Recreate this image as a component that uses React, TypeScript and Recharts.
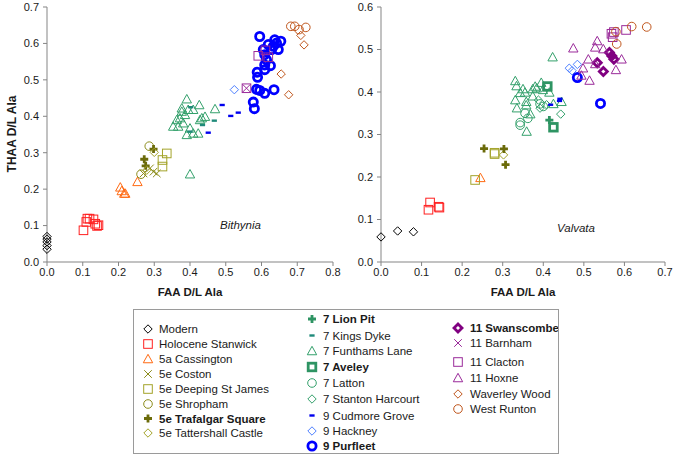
import React from "react";
import { ScatterChart, Scatter, XAxis, YAxis } from "recharts";

type Pt = [number, number];
type Kind = "diamond" | "square" | "triangle" | "circle" | "x" | "plus" | "dash";

// ── Bithynia (left panel) ────────────────────────────────────────────────────
const bModern: Pt[] = [[0, 0.035], [0, 0.045], [0, 0.055], [0, 0.063], [0, 0.07]];
const bStanwick: Pt[] = [[0.102, 0.087], [0.11, 0.11], [0.113, 0.119], [0.119, 0.119], [0.13, 0.117], [0.135, 0.105], [0.14, 0.099], [0.144, 0.101]];
const bCassington: Pt[] = [[0.205, 0.205], [0.209, 0.195], [0.216, 0.188], [0.219, 0.188], [0.253, 0.22]];
const bCoston: Pt[] = [[0.27, 0.243], [0.288, 0.257], [0.298, 0.248], [0.307, 0.243]];
const bDeeping: Pt[] = [[0.335, 0.298], [0.323, 0.28], [0.323, 0.262]];
const bShropham: Pt[] = [[0.286, 0.318], [0.263, 0.241]];
const bTrafalgar: Pt[] = [[0.272, 0.282], [0.276, 0.264], [0.298, 0.31]];
const bTattershall: Pt[] = [[0.3, 0.301], [0.279, 0.252]];
const bKingsDyke: Pt[] = [[0.402, 0.425], [0.468, 0.388], [0.435, 0.376], [0.4, 0.358]];
const bFunthams: Pt[] = [
  [0.391, 0.447], [0.353, 0.372], [0.367, 0.372], [0.372, 0.395], [0.377, 0.413], [0.386, 0.404],
  [0.395, 0.418], [0.381, 0.381], [0.391, 0.349], [0.4, 0.367], [0.409, 0.353], [0.423, 0.353],
  [0.428, 0.39], [0.433, 0.395], [0.442, 0.399], [0.426, 0.431], [0.409, 0.418], [0.47, 0.42],
  [0.4, 0.241], [0.377, 0.422], [0.363, 0.39],
];
const bCudmore: Pt[] = [[0.49, 0.431], [0.514, 0.401], [0.535, 0.41], [0.451, 0.355]];
const bHackney: Pt[] = [[0.524, 0.473]];
const bPurfleet: Pt[] = [
  [0.595, 0.619], [0.605, 0.583], [0.609, 0.569], [0.614, 0.555], [0.609, 0.541], [0.588, 0.521],
  [0.589, 0.507], [0.609, 0.528], [0.625, 0.539], [0.586, 0.474], [0.595, 0.471], [0.609, 0.463],
  [0.635, 0.473], [0.577, 0.439], [0.58, 0.421], [0.633, 0.592], [0.642, 0.601], [0.654, 0.606],
  [0.637, 0.61], [0.628, 0.583], [0.619, 0.597], [0.647, 0.583],
];
const bBarnham: Pt[] = [[0.558, 0.477]];
const bClacton: Pt[] = [[0.558, 0.477], [0.591, 0.566], [0.611, 0.581], [0.619, 0.562]];
const bWaverley: Pt[] = [[0.71, 0.622], [0.719, 0.596], [0.655, 0.516], [0.676, 0.459]];
const bWestRunton: Pt[] = [[0.682, 0.647], [0.693, 0.647], [0.705, 0.638], [0.724, 0.644]];

// ── Valvata (right panel) ────────────────────────────────────────────────────
const vModern: Pt[] = [[0, 0.059], [0.041, 0.073], [0.08, 0.071]];
const vStanwick: Pt[] = [[0.117, 0.123], [0.121, 0.14], [0.142, 0.13], [0.144, 0.128]];
const vCassington: Pt[] = [[0.245, 0.198]];
const vDeeping: Pt[] = [[0.232, 0.193], [0.28, 0.257], [0.28, 0.254]];
const vTattershall: Pt[] = [[0.302, 0.252]];
const vTrafalgar: Pt[] = [[0.254, 0.267], [0.303, 0.266], [0.307, 0.229]];
const vFunthams: Pt[] = [
  [0.331, 0.426], [0.334, 0.414], [0.331, 0.381], [0.335, 0.362], [0.343, 0.398], [0.35, 0.407],
  [0.355, 0.399], [0.358, 0.377], [0.358, 0.369], [0.359, 0.307], [0.368, 0.348], [0.374, 0.407],
  [0.38, 0.413], [0.384, 0.409], [0.395, 0.422], [0.399, 0.405], [0.415, 0.399], [0.423, 0.482],
  [0.425, 0.372], [0.445, 0.377], [0.374, 0.39],
];
const vLionPit: Pt[] = [[0.415, 0.334]];
const vAveley: Pt[] = [[0.41, 0.413], [0.425, 0.317]];
const vLatton: Pt[] = [[0.343, 0.328], [0.343, 0.322], [0.355, 0.35], [0.362, 0.338], [0.392, 0.372], [0.4, 0.366]];
const vStanton: Pt[] = [[0.392, 0.362], [0.408, 0.37], [0.443, 0.348], [0.388, 0.381]];
const vCudmore: Pt[] = [[0.418, 0.37], [0.441, 0.384], [0.44, 0.379]];
const vHackney: Pt[] = [[0.464, 0.456], [0.471, 0.45], [0.484, 0.465]];
const vPurfleet: Pt[] = [[0.484, 0.434], [0.541, 0.373]];
const vSwanscombe: Pt[] = [[0.533, 0.469], [0.548, 0.448], [0.563, 0.493], [0.574, 0.477], [0.569, 0.485]];
const vHoxne: Pt[] = [
  [0.474, 0.503], [0.498, 0.456], [0.511, 0.477], [0.514, 0.427], [0.528, 0.466], [0.533, 0.52],
  [0.528, 0.505], [0.548, 0.501], [0.579, 0.452], [0.593, 0.477], [0.494, 0.439],
];
const vClacton: Pt[] = [[0.568, 0.537], [0.571, 0.529], [0.574, 0.541], [0.604, 0.546]];
const vWestRunton: Pt[] = [[0.579, 0.542], [0.581, 0.513], [0.618, 0.554], [0.655, 0.553]];

const xTicksLeft = [0, 0.1, 0.2, 0.3, 0.4, 0.5, 0.6, 0.7, 0.8];
const yTicksLeft = [0, 0.1, 0.2, 0.3, 0.4, 0.5, 0.6, 0.7];
const xTicksRight = [0, 0.1, 0.2, 0.3, 0.4, 0.5, 0.6, 0.7];
const yTicksRight = [0, 0.1, 0.2, 0.3, 0.4, 0.5, 0.6];

interface Style {
  name: string;
  kind: Kind;
  color: string;
  bold?: boolean;
}

const S: Record<string, Style> = {
  modern: { name: "Modern", kind: "diamond", color: "#000000" },
  stanwick: { name: "Holocene Stanwick", kind: "square", color: "#ff2020" },
  cassington: { name: "5a Cassington", kind: "triangle", color: "#ff6a13" },
  coston: { name: "5e Coston", kind: "x", color: "#8c8c1a" },
  deeping: { name: "5e Deeping St James", kind: "square", color: "#a3a32a" },
  shropham: { name: "5e Shropham", kind: "circle", color: "#8c8c1a" },
  trafalgar: { name: "5e Trafalgar Square", kind: "plus", color: "#6b6b0a", bold: true },
  tattershall: { name: "5e Tattershall Castle", kind: "diamond", color: "#a3a32a" },
  lionPit: { name: "7 Lion Pit", kind: "plus", color: "#2e9463", bold: true },
  kingsDyke: { name: "7 Kings Dyke", kind: "dash", color: "#1f8a7a" },
  funthams: { name: "7 Funthams Lane", kind: "triangle", color: "#33a06b" },
  aveley: { name: "7 Aveley", kind: "square", color: "#2e9463", bold: true },
  latton: { name: "7 Latton", kind: "circle", color: "#33a06b" },
  stanton: { name: "7 Stanton Harcourt", kind: "diamond", color: "#33a06b" },
  cudmore: { name: "9 Cudmore Grove", kind: "dash", color: "#0000ee" },
  hackney: { name: "9 Hackney", kind: "diamond", color: "#4d7fff" },
  purfleet: { name: "9 Purfleet", kind: "circle", color: "#0000ff", bold: true },
  swanscombe: { name: "11 Swanscombe", kind: "diamond", color: "#800080", bold: true },
  barnham: { name: "11 Barnham", kind: "x", color: "#9a2a9a" },
  clacton: { name: "11 Clacton", kind: "square", color: "#9a2a9a" },
  hoxne: { name: "11 Hoxne", kind: "triangle", color: "#9a2a9a" },
  waverley: { name: "Waverley Wood", kind: "diamond", color: "#c0561c" },
  westRunton: { name: "West Runton", kind: "circle", color: "#c0561c" },
};

const leftSeries: [string, Pt[]][] = [
  ["modern", bModern], ["stanwick", bStanwick], ["cassington", bCassington], ["coston", bCoston],
  ["deeping", bDeeping], ["shropham", bShropham], ["trafalgar", bTrafalgar], ["tattershall", bTattershall],
  ["funthams", bFunthams], ["kingsDyke", bKingsDyke], ["cudmore", bCudmore], ["hackney", bHackney],
  ["purfleet", bPurfleet], ["barnham", bBarnham], ["clacton", bClacton], ["waverley", bWaverley],
  ["westRunton", bWestRunton],
];

const rightSeries: [string, Pt[]][] = [
  ["modern", vModern], ["stanwick", vStanwick], ["cassington", vCassington], ["deeping", vDeeping],
  ["tattershall", vTattershall], ["trafalgar", vTrafalgar], ["funthams", vFunthams], ["lionPit", vLionPit],
  ["aveley", vAveley], ["latton", vLatton], ["stanton", vStanton], ["cudmore", vCudmore],
  ["hackney", vHackney], ["purfleet", vPurfleet], ["swanscombe", vSwanscombe], ["hoxne", vHoxne],
  ["clacton", vClacton], ["westRunton", vWestRunton],
];

const FONT = "Arial, 'Liberation Sans', sans-serif";

const Glyph = ({ kind, color, bold, cx, cy }: { kind: Kind; color: string; bold?: boolean; cx: number; cy: number }) => {
  const sw = bold ? 2.8 : 1;
  switch (kind) {
    case "diamond": {
      const s = bold ? 4 : 4.2;
      return (
        <path
          d={`M${cx},${cy - s}L${cx + s},${cy}L${cx},${cy + s}L${cx - s},${cy}Z`}
          fill="none"
          stroke={color}
          strokeWidth={sw}
        />
      );
    }
    case "square": {
      const s = bold ? 3.8 : 4.3;
      return <rect x={cx - s} y={cy - s} width={s * 2} height={s * 2} fill="none" stroke={color} strokeWidth={sw} />;
    }
    case "triangle": {
      const s = 4.7;
      return (
        <path
          d={`M${cx},${cy - s}L${cx + s},${cy + s * 0.8}L${cx - s},${cy + s * 0.8}Z`}
          fill="none"
          stroke={color}
          strokeWidth={sw}
        />
      );
    }
    case "circle":
      return <circle cx={cx} cy={cy} r={bold ? 4.1 : 4.3} fill="none" stroke={color} strokeWidth={sw} />;
    case "x": {
      const s = 3.8;
      return (
        <path
          d={`M${cx - s},${cy - s}L${cx + s},${cy + s}M${cx - s},${cy + s}L${cx + s},${cy - s}`}
          stroke={color}
          strokeWidth={1}
        />
      );
    }
    case "plus": {
      const s = 4;
      return (
        <path d={`M${cx - s},${cy}L${cx + s},${cy}M${cx},${cy - s}L${cx},${cy + s}`} stroke={color} strokeWidth={2.8} />
      );
    }
    case "dash":
      return <path d={`M${cx - 2.6},${cy}L${cx + 2.6},${cy}`} stroke={color} strokeWidth={2.4} />;
  }
  return null;
};

const shapeFor = (st: Style) => (props: unknown) => {
  const { cx = 0, cy = 0 } = props as { cx?: number; cy?: number };
  return <Glyph kind={st.kind} color={st.color} bold={st.bold} cx={cx} cy={cy} />;
};

const toData = (pts: Pt[]) => pts.map(([x, y]) => ({ x, y }));

const axisProps = {
  type: "number" as const,
  stroke: "#858585",
  tickSize: 4,
  tick: { fontSize: 11, fill: "#1a1a1a", fontFamily: FONT },
  tickFormatter: (v: number) => v.toFixed(1),
  interval: 0 as const,
};

const Panel = ({
  series,
  width,
  yWidth,
  marginRight,
  xMax,
  yMax,
  xTicks,
  yTicks,
}: {
  series: [string, Pt[]][];
  width: number;
  yWidth: number;
  marginRight: number;
  xMax: number;
  yMax: number;
  xTicks: number[];
  yTicks: number[];
}) => (
  <ScatterChart width={width} height={300} margin={{ top: 7, right: marginRight, bottom: 8, left: 0 }}>
    <XAxis {...axisProps} dataKey="x" domain={[0, xMax]} ticks={xTicks} height={30} />
    <YAxis {...axisProps} dataKey="y" domain={[0, yMax]} ticks={yTicks} width={yWidth} tickMargin={4} />
    {series.map(([key, pts]) => (
      <Scatter key={key} name={S[key].name} data={toData(pts)} shape={shapeFor(S[key])} isAnimationActive={false} />
    ))}
  </ScatterChart>
);

const legendCols: { mx: number; tx: number; rows: [string, number][] }[] = [
  {
    mx: 14, tx: 25,
    rows: [["modern", 19], ["stanwick", 34], ["cassington", 49], ["coston", 64], ["deeping", 79], ["shropham", 94], ["trafalgar", 108.5], ["tattershall", 123]],
  },
  {
    mx: 178, tx: 189,
    rows: [["lionPit", 9], ["kingsDyke", 25.5], ["funthams", 41], ["aveley", 57], ["latton", 73], ["stanton", 89], ["cudmore", 105.5], ["hackney", 121], ["purfleet", 136]],
  },
  {
    mx: 324, tx: 336,
    rows: [["swanscombe", 18], ["barnham", 33], ["clacton", 52], ["hoxne", 68], ["waverley", 84], ["westRunton", 99]],
  },
];

const Legend = () => (
  <div
    style={{
      position: "absolute",
      left: 133,
      top: 309,
      width: 424,
      height: 143,
      border: "1.5px solid #9a9a9a",
      overflow: "hidden",
      background: "#fff",
    }}
  >
    <svg width={424} height={143}>
      {legendCols.map((col, ci) =>
        col.rows.map(([key, y]) => {
          const st = S[key];
          return (
            <g key={`${ci}-${key}`}>
              <Glyph kind={st.kind} color={st.color} bold={st.bold} cx={col.mx} cy={y} />
              <text
                x={col.tx}
                y={y}
                dy="0.36em"
                fontSize={11.5}
                fontFamily={FONT}
                fontWeight={st.bold ? "bold" : "normal"}
                fill="#1a1a1a"
              >
                {st.name}
              </text>
            </g>
          );
        }),
      )}
    </svg>
  </div>
);

const labelStyle: React.CSSProperties = {
  position: "absolute",
  fontFamily: FONT,
  fontSize: 11.5,
  fontWeight: "bold",
  color: "#1a1a1a",
  whiteSpace: "nowrap",
  lineHeight: "13px",
};

export default function App() {
  return (
    <div style={{ position: "absolute", left: 0, top: 0, width: 674, height: 455, background: "#fff", fontFamily: FONT }}>
      <div style={{ position: "absolute", left: 0, top: 0 }}>
        <Panel series={leftSeries} width={345} yWidth={47} marginRight={12} xMax={0.8} yMax={0.7} xTicks={xTicksLeft} yTicks={yTicksLeft} />
      </div>
      <div style={{ position: "absolute", left: 340, top: 0 }}>
        <Panel series={rightSeries} width={334} yWidth={41} marginRight={9} xMax={0.7} yMax={0.6} xTicks={xTicksRight} yTicks={yTicksRight} />
      </div>
      <div style={{ ...labelStyle, left: 190, top: 286, transform: "translateX(-50%)" }}>FAA D/L Ala</div>
      <div style={{ ...labelStyle, left: 523, top: 286, transform: "translateX(-50%)" }}>FAA D/L Ala</div>
      <div style={{ ...labelStyle, fontSize: 12, left: 12, top: 134, transform: "translate(-50%, -50%) rotate(-90deg)" }}>THAA D/L Ala</div>
      <div style={{ ...labelStyle, fontWeight: "normal", fontStyle: "italic", left: 220, top: 219 }}>Bithynia</div>
      <div style={{ ...labelStyle, fontWeight: "normal", fontStyle: "italic", left: 557, top: 222 }}>Valvata</div>
      <Legend />
    </div>
  );
}
